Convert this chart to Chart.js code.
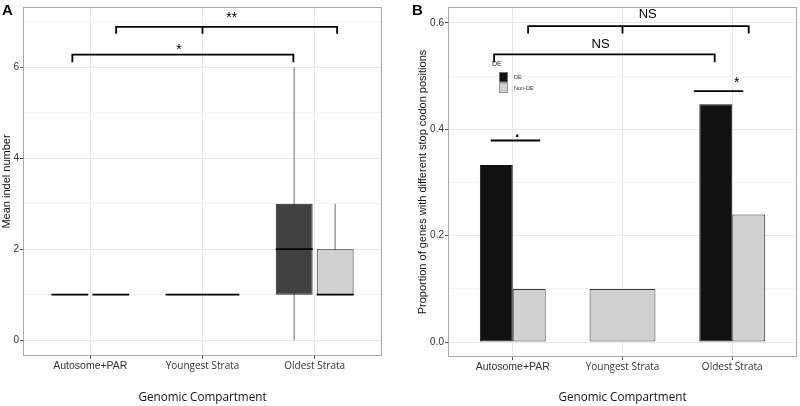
<!DOCTYPE html>
<html>
<head>
<meta charset="utf-8">
<script src="https://cdn.jsdelivr.net/npm/chart.js@4.4.0/dist/chart.umd.min.js"></script>
<style>
  html, body { margin: 0; padding: 0; background: #fff; }
  #wrap { position: relative; width: 800px; height: 406px; }
  .panel { position: absolute; top: 0; width: 400px; height: 406px; }
</style>
</head>
<body>
<div id="wrap">
  <div class="panel" style="left:0"><canvas id="chartA" width="400" height="406"></canvas></div>
  <div class="panel" style="left:400px"><canvas id="chartB" width="400" height="406"></canvas></div>
</div>
<script>
const compartments = ['Autosome+PAR', 'Youngest Strata', 'Oldest Strata'];
const groupLabels = ['DE', 'Non-DE'];

// panel A : indel number per gene (null = no genes in that group)
const deMin = [1, null, 0];
const deQ1 = [1, null, 1];
const deMedian = [1, null, 2];
const deQ3 = [1, null, 3];
const deMax = [1, null, 6];
const nonDeMin = [1, 1, 1];
const nonDeQ1 = [1, 1, 1];
const nonDeMedian = [1, 1, 1];
const nonDeQ3 = [1, 1, 2];
const nonDeMax = [1, 1, 3];

// panel B : proportion of genes with different stop codon positions
const deProp = [0.333, null, 0.447];
const nonDeProp = [0.1, 0.1, 0.24];

const majorA = [0, 2, 4, 6];
const minorA = [1, 3, 5, 7];
const majorB = [0, 0.2, 0.4, 0.6];
const minorB = [0.1, 0.3, 0.5];

// significance marks, x in compartment units, y in data units
const signifA = [
  { from: -0.16, to: 1.81, y: 6.28, drop: 0.17, mid: null, text: '*', tx: 0.79, ty: 6.3, size: 14, bold: false },
  { from: 0.23, to: 2.2, y: 6.89, drop: 0.15, mid: 1, text: '**', tx: 1.26, ty: 7.0, size: 14, bold: false }
];
const signifB = [
  { from: 0.14, to: 2.15, y: 0.594, drop: 0.014, mid: 1, text: 'NS', tx: 1.23, ty: 0.61, size: 13, bold: false },
  { from: -0.17, to: 1.84, y: 0.541, drop: 0.015, mid: null, text: 'NS', tx: 0.8, ty: 0.552, size: 13, bold: false },
  { from: -0.2, to: 0.25, y: 0.379, drop: 0, mid: null, text: '.', tx: 0.04, ty: 0.386, size: 16, bold: true },
  { from: 1.65, to: 2.1, y: 0.472, drop: 0, mid: null, text: '*', tx: 2.04, ty: 0.48, size: 14, bold: false }
];

const deFillA = '#404040';
const nonDeFill = '#d0d0d0';
const deFillB = '#111111';

const sans = "'Liberation Sans', Arial, sans-serif";
const open = "'Open Sans', sans-serif";

const panelDecor = {
  id: 'panelDecor',
  beforeDatasetsDraw(chart, args, opts) {
    if (!opts.boxes) return;
    const ctx = chart.ctx, y = chart.scales.y;
    chart.data.datasets.forEach((ds, di) => {
      chart.getDatasetMeta(di).data.forEach((bar, i) => {
        if (ds.stats.min[i] === null) return;
        ctx.save();
        ctx.strokeStyle = '#9c9c9c';
        ctx.lineWidth = 1.5;
        ctx.beginPath();
        ctx.moveTo(bar.x, y.getPixelForValue(ds.stats.min[i]));
        ctx.lineTo(bar.x, y.getPixelForValue(ds.stats.max[i]));
        ctx.stroke();
        ctx.restore();
      });
    });
  },
  afterDatasetsDraw(chart, args, opts) {
    if (!opts.boxes) return;
    const ctx = chart.ctx, y = chart.scales.y;
    chart.data.datasets.forEach((ds, di) => {
      chart.getDatasetMeta(di).data.forEach((bar, i) => {
        if (ds.stats.median[i] === null) return;
        const py = y.getPixelForValue(ds.stats.median[i]);
        ctx.save();
        ctx.strokeStyle = '#000';
        ctx.lineWidth = 1.8;
        ctx.beginPath();
        ctx.moveTo(bar.x - bar.width / 2, py);
        ctx.lineTo(bar.x + bar.width / 2, py);
        ctx.stroke();
        ctx.restore();
      });
    });
  },
  afterDraw(chart, args, opts) {
    const ctx = chart.ctx, a = chart.chartArea;
    const x = chart.scales.x, y = chart.scales.y;
    ctx.save();
    // panel border
    ctx.strokeStyle = '#a8a8a8';
    ctx.lineWidth = 1;
    ctx.strokeRect(Math.round(a.left) + 0.5, Math.round(a.top) + 0.5,
      Math.round(a.right - a.left) - 1, Math.round(a.bottom - a.top) - 1);

    // significance brackets
    ctx.strokeStyle = '#000';
    ctx.lineWidth = 1.8;
    ctx.fillStyle = '#000';
    ctx.textAlign = 'center';
    ctx.textBaseline = 'alphabetic';
    (opts.signif || []).forEach(s => {
      const x0 = x.getPixelForValue(s.from), x1 = x.getPixelForValue(s.to);
      const py = y.getPixelForValue(s.y), pd = y.getPixelForValue(s.y - s.drop);
      ctx.beginPath();
      ctx.moveTo(x0, pd); ctx.lineTo(x0, py); ctx.lineTo(x1, py); ctx.lineTo(x1, pd);
      if (s.mid !== null) {
        const xm = x.getPixelForValue(s.mid);
        ctx.moveTo(xm, py); ctx.lineTo(xm, pd);
      }
      ctx.stroke();
      ctx.font = (s.bold ? 'bold ' : '') + s.size + 'px ' + sans;
      ctx.fillText(s.text, x.getPixelForValue(s.tx), y.getPixelForValue(s.ty));
    });

    // panel letter
    ctx.font = 'bold 15px ' + sans;
    ctx.textAlign = 'left';
    ctx.fillText(opts.letter, opts.letterX, 15);

    // small legend inside the plot
    if (opts.legendAt) {
      const lx = a.left + opts.legendAt[0], ly = a.top + opts.legendAt[1];
      ctx.font = '7px ' + sans;
      ctx.fillStyle = '#222';
      ctx.textBaseline = 'middle';
      ctx.fillText(opts.legendTitle, lx, ly);
      chart.data.datasets.forEach((ds, i) => {
        const top = ly + 8 + i * 10.5;
        ctx.fillStyle = ds.backgroundColor;
        ctx.fillRect(lx + 7, top, 9, 10.5);
        ctx.strokeStyle = '#888';
        ctx.lineWidth = 0.8;
        ctx.strokeRect(lx + 7.5, top + 0.5, 8, 9.5);
        ctx.fillStyle = '#333';
        ctx.font = '5.5px ' + sans;
        ctx.fillText(ds.label, lx + 22, top + 5.5);
      });
    }
    ctx.restore();
  }
};

function valueTicks(major, minor) {
  return function (scale) {
    scale.ticks = major.concat(minor).sort((p, q) => p - q).map(v => ({ value: v }));
  };
}

function isMajor(list, v) {
  return list.some(m => Math.abs(m - v) < 1e-9);
}

function xScale(min, max, height) {
  return {
    type: 'linear',
    min: min,
    max: max,
    offset: false,
    afterBuildTicks: scale => { scale.ticks = compartments.map((c, i) => ({ value: i })); },
    afterFit: scale => { scale.height = height; },
    grid: { offset: false, color: '#e8e8e8', tickLength: 3, tickColor: '#555' },
    border: { display: false },
    ticks: {
      autoSkip: false,
      maxRotation: 0,
      padding: 1,
      color: '#333',
      font: ctx => ctx.index === 0 ? { family: sans, size: 10.5 } : { family: open, size: 10 },
      callback: v => compartments[v]
    },
    title: {
      display: true,
      text: 'Genomic Compartment',
      color: '#111',
      font: { family: open, size: 11.7 },
      padding: { top: 0, bottom: 1.5 }
    }
  };
}

function yScale(min, max, major, minor, width, titleText, titlePad, fmt) {
  return {
    type: 'linear',
    min: min,
    max: max,
    afterBuildTicks: valueTicks(major, minor),
    afterFit: scale => { scale.width = width; },
    grid: {
      color: ctx => isMajor(major, ctx.tick.value) ? '#e8e8e8' : '#f3f3f3',
      tickColor: ctx => isMajor(major, ctx.tick.value) ? '#555' : 'rgba(0,0,0,0)',
      tickLength: 3
    },
    border: { display: false },
    ticks: {
      autoSkip: false,
      padding: 1,
      color: '#333',
      font: { family: sans, size: 10 },
      callback: v => isMajor(major, v) ? fmt(v) : ''
    },
    title: {
      display: true,
      text: titleText,
      color: '#111',
      font: { family: sans, size: 11 },
      padding: { top: titlePad, bottom: 0 }
    }
  };
}

const boxPoints = (q1, q3) => compartments.map((c, i) => ({ x: i, y: q1[i] === null ? null : [q1[i], q3[i]] }));
const barPoints = vals => compartments.map((c, i) => ({ x: i, y: vals[i] }));

new Chart(document.getElementById('chartA'), {
  type: 'bar',
  data: {
    datasets: [
      {
        label: groupLabels[0],
        data: boxPoints(deQ1, deQ3),
        backgroundColor: deFillA,
        borderColor: '#222',
        borderWidth: 1,
        borderSkipped: false,
        stats: { min: deMin, median: deMedian, max: deMax }
      },
      {
        label: groupLabels[1],
        data: boxPoints(nonDeQ1, nonDeQ3),
        backgroundColor: nonDeFill,
        borderColor: '#222',
        borderWidth: 1,
        borderSkipped: false,
        stats: { min: nonDeMin, median: nonDeMedian, max: nonDeMax }
      }
    ]
  },
  options: {
    responsive: false,
    animation: false,
    devicePixelRatio: 1,
    layout: { padding: { top: 3, right: 18, bottom: 0, left: 0 } },
    datasets: { bar: { categoryPercentage: 0.73, barPercentage: 0.9, skipNull: true } },
    scales: {
      x: xScale(-0.6, 2.6, 50),
      y: yScale(-0.348, 7.326, majorA, minorA, 23, 'Mean indel number', 0, v => String(v))
    },
    plugins: {
      legend: { display: false },
      tooltip: { enabled: false },
      panelDecor: { boxes: true, signif: signifA, letter: 'A', letterX: 2 }
    }
  },
  plugins: [panelDecor]
});

new Chart(document.getElementById('chartB'), {
  type: 'bar',
  data: {
    datasets: [
      {
        label: groupLabels[0],
        data: barPoints(deProp),
        backgroundColor: deFillB,
        borderColor: '#111',
        borderWidth: 1,
        borderSkipped: false
      },
      {
        label: groupLabels[1],
        data: barPoints(nonDeProp),
        backgroundColor: nonDeFill,
        borderColor: '#3a3a3a',
        borderWidth: 1,
        borderSkipped: false
      }
    ]
  },
  options: {
    responsive: false,
    animation: false,
    devicePixelRatio: 1,
    layout: { padding: { top: 3, right: 3, bottom: 0, left: 0 } },
    datasets: { bar: { categoryPercentage: 0.6, barPercentage: 1, skipNull: true } },
    scales: {
      x: xScale(-0.59, 2.59, 49),
      y: yScale(-0.028, 0.63, majorB, minorB, 48,
        'Proportion of genes with different stop codon positions', 16, v => v.toFixed(1))
    },
    plugins: {
      legend: { display: false },
      tooltip: { enabled: false },
      panelDecor: { boxes: false, signif: signifB, letter: 'B', letterX: 12, legendAt: [44, 57], legendTitle: 'DE' }
    }
  },
  plugins: [panelDecor]
});
</script>
</body>
</html>
